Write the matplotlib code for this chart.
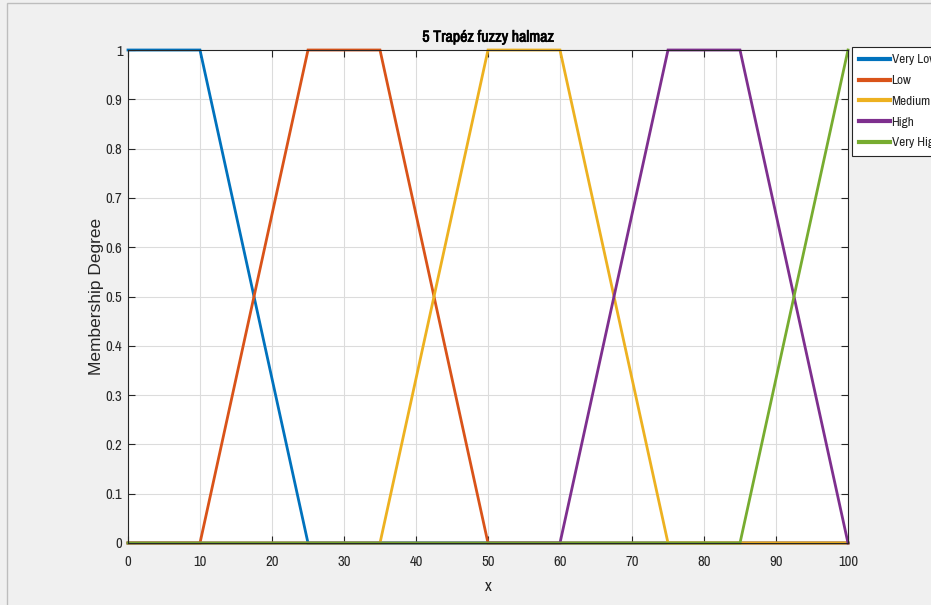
import matplotlib
matplotlib.use("Agg")
import matplotlib.pyplot as plt
import matplotlib.patheffects as pe
from matplotlib.patches import Rectangle
from matplotlib.font_manager import FontProperties

# trapezoid breakpoints (x) and membership values
names = ["Very Low", "Low", "Medium", "High", "Very High"]
xs = [
    [0, 10, 25, 100],
    [0, 10, 25, 35, 50, 100],
    [0, 35, 50, 60, 75, 100],
    [0, 60, 75, 85, 100],
    [0, 85, 100],
]
ys = [
    [1, 1, 0, 0],
    [0, 0, 1, 1, 0, 0],
    [0, 0, 1, 1, 0, 0],
    [0, 0, 1, 1, 0],
    [0, 0, 1],
]
colors = ["#0072BD", "#D95319", "#EDB120", "#7E2F8E", "#77AC30"]

xticks = list(range(0, 101, 10))
yticks = [i / 10 for i in range(11)]
ylabels = ["0", "0.1", "0.2", "0.3", "0.4", "0.5", "0.6", "0.7", "0.8", "0.9", "1"]

regular = ["Liberation Sans", "DejaVu Sans"]
txtcol = "#262626"

def narrow(size, weight="normal"):
    return FontProperties(family=["Archivo Narrow", "DejaVu Sans"], size=size, weight=weight)

fig = plt.figure(figsize=(9.31, 6.05), dpi=100, facecolor="#f0f0f0")
W, H = 931, 605
ax = fig.add_axes([128 / W, 1 - 543 / H, 720 / W, (543 - 50) / H])

for x, y, c, n in zip(xs, ys, colors, names):
    ax.plot(x, y, color=c, lw=2, label=n, clip_on=False, solid_joinstyle="miter")

ax.set_xlim(0, 100)
ax.set_ylim(0, 1)
ax.set_xticks(xticks)
ax.set_yticks(yticks)
ax.set_xticklabels([str(t) for t in xticks], fontproperties=narrow(10.5), color=txtcol)
ax.set_yticklabels(ylabels, fontproperties=narrow(10.5), color=txtcol)
ax.tick_params(direction="in", top=True, right=True, length=5, width=0.8, color="#262626")
ax.tick_params(axis="x", pad=9)
ax.tick_params(axis="y", pad=4)
ax.grid(True, color="#dcdcdc", lw=0.8)
ax.set_axisbelow(True)
for s in ax.spines.values():
    s.set_color("#262626")
    s.set_linewidth(0.8)

# the narrow font has no bold face here, so thicken it with a stroke
title = ax.set_title("5 Trapéz fuzzy halmaz", fontproperties=narrow(11.5), color="black", pad=6)
title.set_path_effects([pe.withStroke(linewidth=0.5, foreground="black")])
ax.set_xlabel("x", fontproperties=narrow(12), color=txtcol, labelpad=7)
ax.set_ylabel("Membership Degree", family=regular, fontsize=12.5, color=txtcol, labelpad=1)

leg = fig.legend(loc="upper left", bbox_to_anchor=(852 / W, 1 - 47 / H), borderaxespad=0,
                 frameon=True, fancybox=False, edgecolor="#262626", framealpha=1,
                 handlelength=2.35, handletextpad=0.1, borderpad=0.55, labelspacing=0.72,
                 prop=narrow(9.5))
for line in leg.get_lines():
    line.set_linewidth(3)
for t in leg.get_texts():
    t.set_color(txtcol)
leg.get_frame().set_linewidth(0.8)

# screenshot frame lines
fig.patches.append(Rectangle((7 / W, -0.1), 1.2, 1.1 - 3 / H, transform=fig.transFigure,
                             fill=False, edgecolor="#bdbdbd", lw=1))

fig.savefig("out.png", dpi=100, facecolor=fig.get_facecolor())
